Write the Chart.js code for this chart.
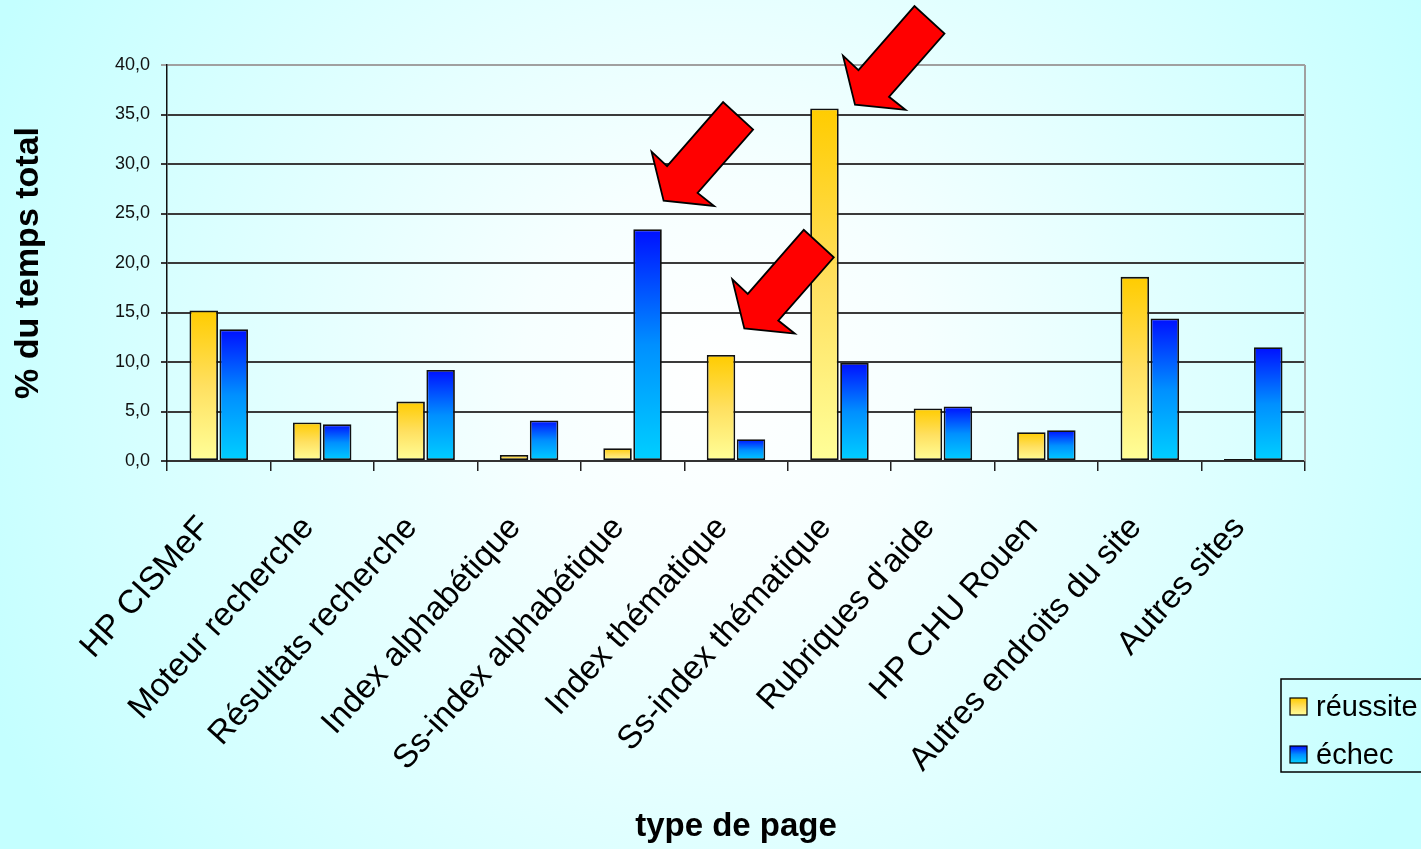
<!DOCTYPE html>
<html>
<head>
<meta charset="utf-8">
<script src="https://cdn.jsdelivr.net/npm/chart.js@4.4.1/dist/chart.umd.min.js"></script>
<style>
  html, body { margin: 0; padding: 0; background: #ccffff; overflow: hidden; }
  #wrap { position: relative; width: 1421px; height: 849px; }
</style>
</head>
<body>
<div id="wrap"><canvas id="c" width="1421" height="849"></canvas></div>
<script>
const categories = ['HP CISMeF', 'Moteur recherche', 'Résultats recherche', 'Index alphabétique',
  'Ss-index alphabétique', 'Index thématique', 'Ss-index thématique', "Rubriques d'aide",
  'HP CHU Rouen', 'Autres endroits du site', 'Autres sites'];
const reussite = [15.2, 3.9, 6.0, 0.6, 1.3, 10.7, 35.6, 5.3, 2.9, 18.6, 0.2];
const echec    = [13.3, 3.7, 9.2, 4.1, 23.4, 2.2, 9.9, 5.5, 3.1, 14.4, 11.5];
const seriesNames = ['réussite', 'échec'];
const yTicks = [0, 5, 10, 15, 20, 25, 30, 35, 40];
// arrows: pointing at (category index + fraction of a category, value)
const arrowTargets = [
  { cat: 4, dx: 0.30, val: 26.3 },
  { cat: 5, dx: 0.08, val: 13.4 },
  { cat: 6, dx: 0.15, val: 36.0 }
];

const FONT = "'Liberation Sans', Arial, sans-serif";
const yellowStops = [[0, '#ffcc00'], [0.5, '#ffe060'], [1, '#ffff99']];
const blueStops = [[0, '#0010ff'], [0.5, '#0090ff'], [1, '#00d0ff']];

function barFill(stops) {
  return function (ctx) {
    const chart = ctx.chart;
    const y = chart.scales && chart.scales.y;
    if (!y || ctx.type !== 'data' || !chart.chartArea) return stops[1][1];
    const top = y.getPixelForValue(ctx.parsed ? ctx.parsed.y : ctx.raw);
    const bottom = y.getPixelForValue(0);
    if (!isFinite(top) || !isFinite(bottom) || Math.abs(bottom - top) < 1) return stops[0][1];
    const g = chart.ctx.createLinearGradient(0, top, 0, bottom);
    stops.forEach(s => g.addColorStop(s[0], s[1]));
    return g;
  };
}

const bgPlugin = {
  id: 'bg',
  beforeDraw(chart) {
    const c = chart.ctx, w = chart.width, h = chart.height;
    c.save();
    const g = c.createRadialGradient(720, 380, 0, 720, 380, 800);
    g.addColorStop(0, '#ffffff');
    g.addColorStop(0.25, '#f6ffff');
    g.addColorStop(1, '#c4ffff');
    c.fillStyle = g;
    c.fillRect(0, 0, w, h);
    c.restore();
  },
  beforeDatasetsDraw(chart) {
    const c = chart.ctx, a = chart.chartArea;
    c.save();
    c.strokeStyle = '#a0a0a0';
    c.lineWidth = 2;
    c.beginPath();
    c.moveTo(a.right, a.top);
    c.lineTo(a.right, a.bottom);
    c.stroke();
    c.restore();
  }
};

const arrowShape = [[0, 0], [-12, -49], [3.5, -34.5], [59.5, -98.5], [89.5, -71], [34, -7.8], [50.5, 5.3]];
const arrowPlugin = {
  id: 'arrows',
  afterDatasetsDraw(chart) {
    const c = chart.ctx, xs = chart.scales.x, ys = chart.scales.y;
    const cw = (xs.right - xs.left) / categories.length;
    c.save();
    arrowTargets.forEach(t => {
      const tx = xs.getPixelForValue(t.cat) + t.dx * cw;
      const ty = ys.getPixelForValue(t.val);
      c.beginPath();
      arrowShape.forEach((p, i) => {
        const px = tx + p[0], py = ty + p[1];
        if (i === 0) c.moveTo(px, py); else c.lineTo(px, py);
      });
      c.closePath();
      c.fillStyle = '#ff0000';
      c.fill();
      c.lineWidth = 1.8;
      c.strokeStyle = '#000';
      c.lineJoin = 'miter';
      c.stroke();
    });
    c.restore();
  }
};

const legendPlugin = {
  id: 'customLegend',
  afterDraw(chart) {
    const c = chart.ctx;
    const bx = 1281, by = 679, bw = 160, bh = 93;
    c.save();
    c.strokeStyle = '#000';
    c.lineWidth = 1.5;
    c.strokeRect(bx, by, bw, bh);
    const fills = [yellowStops, blueStops];
    chart.data.datasets.forEach((ds, i) => {
      const sy = by + 19 + i * 48;
      const g = c.createLinearGradient(0, sy, 0, sy + 17);
      fills[i].forEach(s => g.addColorStop(s[0], s[1]));
      c.fillStyle = g;
      c.fillRect(bx + 9, sy, 17, 17);
      c.lineWidth = 1.2;
      c.strokeRect(bx + 9, sy, 17, 17);
      c.fillStyle = '#000';
      c.font = '29px ' + FONT;
      c.textBaseline = 'alphabetic';
      c.textAlign = 'left';
      c.fillText(ds.label, bx + 35, sy + 18);
    });
    c.restore();
  }
};

new Chart(document.getElementById('c'), {
  type: 'bar',
  data: {
    labels: categories,
    datasets: [
      { label: seriesNames[0], data: reussite, backgroundColor: barFill(yellowStops),
        borderColor: '#111', borderWidth: 1.8, borderSkipped: false,
        categoryPercentage: 0.58, barPercentage: 0.95 },
      { label: seriesNames[1], data: echec, backgroundColor: barFill(blueStops),
        borderColor: '#111', borderWidth: 1.8, borderSkipped: false,
        categoryPercentage: 0.58, barPercentage: 0.95 }
    ]
  },
  options: {
    responsive: false,
    animation: false,
    devicePixelRatio: 1,
    layout: { padding: { top: 65, right: 116, left: 0, bottom: 0 } },
    plugins: { legend: { display: false }, tooltip: { enabled: false } },
    scales: {
      x: {
        offset: true,
        grid: { offset: true, drawOnChartArea: false, drawTicks: true, tickLength: 10, color: '#222', lineWidth: 1.5 },
        border: { display: true, color: '#333', width: 2 },
        ticks: {
          autoSkip: false, minRotation: 48, maxRotation: 48, padding: 38, labelOffset: -14,
          color: '#000', font: { family: FONT, size: 33 }
        },
        title: { display: true, text: 'type de page', color: '#000',
          font: { family: FONT, size: 33, weight: 'bold' }, padding: { top: 0, bottom: 2 } },
        afterFit(scale) { scale.height = 388; }
      },
      y: {
        min: 0, max: 40,
        afterBuildTicks(scale) { scale.ticks = yTicks.map(v => ({ value: v })); },
        grid: {
          color: ctx => (ctx.tick && ctx.tick.value === 40 ? '#a0a0a0' : '#3a3a3a'),
          lineWidth: 2, tickLength: 6, drawTicks: true
        },
        border: { display: true, color: '#111', width: 1.5 },
        ticks: {
          padding: 11, color: '#111', font: { family: FONT, size: 18 },
          callback: v => Number(v).toFixed(1).replace('.', ',')
        },
        title: { display: true, text: '% du temps total', color: '#000',
          font: { family: FONT, size: 34, weight: 'bold' }, padding: { top: 8, bottom: 0 } },
        afterFit(scale) { scale.width = 167; }
      }
    }
  },
  plugins: [bgPlugin, arrowPlugin, legendPlugin]
});
</script>
</body>
</html>
